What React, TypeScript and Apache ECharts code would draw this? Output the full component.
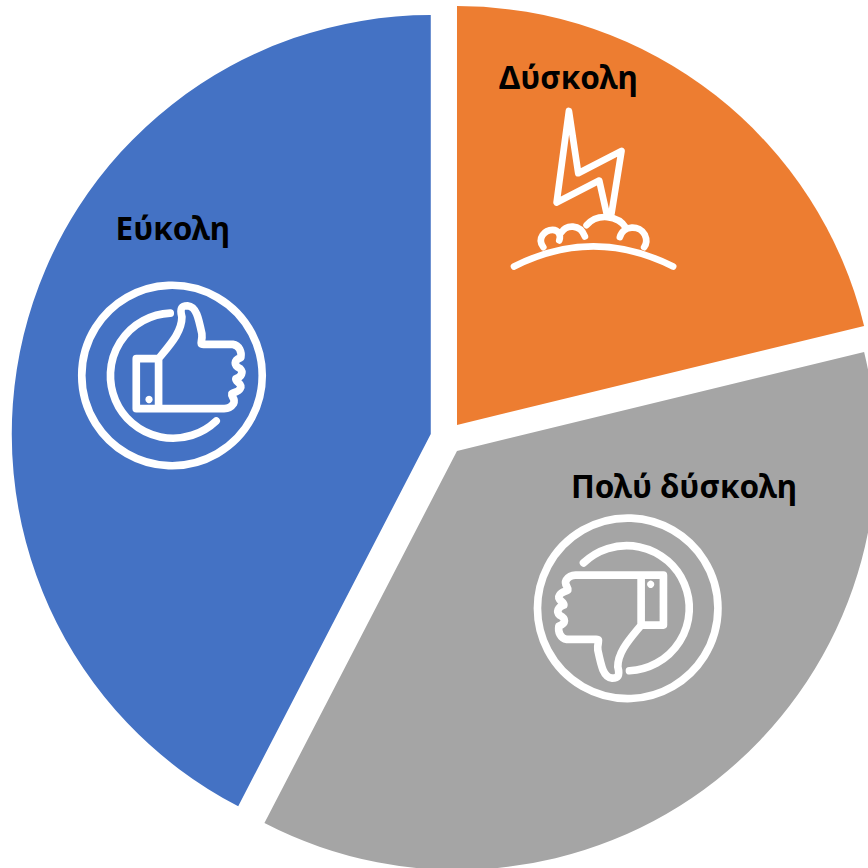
import React, { useEffect, useRef } from "react";
import * as echarts from "echarts";

const categories = ["Δύσκολη", "Πολύ δύσκολη", "Εύκολη"];
const shares = [21.2, 36.4, 42.4];
const sliceColors = ["#ED7D31", "#A5A5A5", "#4472C4"];
const labelSpots = [
  { x: 499, y: 76.5 },
  { x: 571, y: 485.5 },
  { x: 115.5, y: 227.5 },
];

const thumbPath =
  "M198 475 L265 475 C300 432 335 395 335 350 C328 322 335 316 352 316 C378 318 385 352 395 400 C398 425 385 432 400 432 L488 432 C508 435 515 455 512 472 C490 480 490 495 510 505 C520 515 515 530 497 535 C495 545 520 550 510 565 C505 575 495 575 485 580 C482 590 498 595 490 610 C482 622 475 625 462 625 L198 625 Z M265 475 L265 625";
const arcPath = "M300 338 A188 188 0 1 0 438 662";
const boltPath = "M350 490 L328 392 L200 458 L237 183 L265 370 L395 303 L365 490";
const groundPath = "M72 650 Q310 530 550 650";
const cloudPath =
  "M160 592 C140 565 165 540 188 540 C205 540 214 555 208 572 M214 548 C228 525 270 520 285 560 M290 526 C320 490 385 494 410 536 M390 562 C400 525 450 525 465 555 C472 570 470 582 463 592";

echarts.graphic.registerShape("thumb", echarts.graphic.extendPath(thumbPath, {}));
echarts.graphic.registerShape("thumbArc", echarts.graphic.extendPath(arcPath, {}));
echarts.graphic.registerShape("bolt", echarts.graphic.extendPath(boltPath, {}));
echarts.graphic.registerShape("ground", echarts.graphic.extendPath(groundPath, {}));
echarts.graphic.registerShape("cloud", echarts.graphic.extendPath(cloudPath, {}));

const line = { fill: "none", stroke: "#fff", lineWidth: 23, lineCap: "round", lineJoin: "round" };

function thumbIcon(x: number, y: number, rotation: number) {
  return {
    type: "group",
    x,
    y,
    rotation,
    scaleX: 1 / 3,
    scaleY: 1 / 3,
    silent: true,
    children: [
      { type: "circle", z: 10, shape: { cx: 0, cy: 0, r: 271 }, style: { ...line } },
      { type: "thumbArc", z: 10, x: -305, y: -525, style: { ...line } },
      { type: "thumb", z: 10, x: -305, y: -525, style: { ...line } },
      { type: "circle", z: 10, shape: { cx: -69, cy: 72, r: 11 }, style: { fill: "#fff" } },
    ],
  };
}

function stormIcon(x: number, y: number) {
  const s = { ...line, lineWidth: 20 };
  return {
    type: "group",
    x,
    y,
    scaleX: 1 / 3,
    scaleY: 1 / 3,
    silent: true,
    children: [
      { type: "bolt", z: 10, style: { ...s } },
      { type: "cloud", z: 10, style: { ...s } },
      { type: "ground", z: 10, style: { ...s } },
    ],
  };
}

const labelTexts = categories.map((name, i) => ({
  type: "text",
  z: 10,
  x: labelSpots[i].x,
  y: labelSpots[i].y,
  silent: true,
  style: {
    text: name,
    fill: "#000",
    font: "bold 31.5px 'Noto Sans', sans-serif",
    textAlign: "left",
    textVerticalAlign: "middle",
  },
}));

export default function App() {
  const ref = useRef<HTMLDivElement>(null);
  useEffect(() => {
    const chart = echarts.init(ref.current!, undefined, { renderer: "svg" });
    chart.setOption({
      animation: false,
      backgroundColor: "#fff",
      series: [
        {
          type: "pie",
          center: [446.8, 438],
          radius: [0, 419],
          startAngle: 90,
          clockwise: true,
          selectedMode: "multiple",
          selectedOffset: 16.5,
          silent: true,
          data: categories.map((name, i) => ({
            name,
            value: shares[i],
            selected: true,
            itemStyle: { color: sliceColors[i] },
          })),
          label: { show: false },
          labelLine: { show: false },
        },
      ],
      graphic: [...labelTexts, thumbIcon(172, 375.5, 0), thumbIcon(627.7, 608.3, Math.PI), stormIcon(490, 50)],
    });
    return () => chart.dispose();
  }, []);
  return <div ref={ref} style={{ position: "absolute", left: 0, top: 0, width: 868, height: 868 }} />;
}
